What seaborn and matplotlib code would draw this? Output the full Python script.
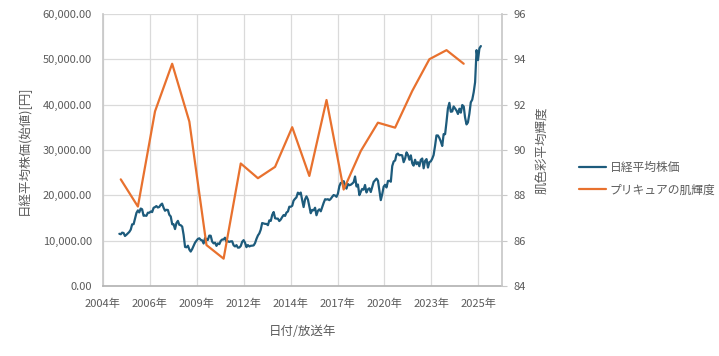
import pandas as pd
import matplotlib.pyplot as plt
import matplotlib.dates as mdates
from matplotlib.ticker import StrMethodFormatter
import seaborn as sns

# 日経平均株価（月次始値）2005-01 ~ 2026-02
nikkei_start = "2005-01-01"
nikkei_values = [
    11489,
    11388, 11740, 11668, 11009, 11277, 11584, 11900, 12413, 13574, 13607, 14872, 16111,
    16650, 16205, 17060, 16906, 15467, 15505, 15457, 16141, 16128, 16399, 16274, 17226,
    17383, 17604, 17288, 17400, 17876, 18138, 17249, 16569, 16786, 16738, 15681, 15308,
    13592, 13603, 12526, 13850, 14339, 13481, 13377, 13073, 11260, 8577, 8512, 8860,
    7994, 7568, 8110, 8828, 9523, 9958, 10357, 10493, 10133, 10035, 9346, 10546,
    10198, 10126, 11090, 11057, 9769, 9383, 9537, 8824, 9369, 9202, 9937, 10229,
    10238, 10624, 9755, 9850, 9694, 9816, 9833, 8955, 8700, 8988, 8434, 8455,
    8802, 9723, 10084, 9520, 8543, 9007, 8695, 8840, 8870, 8928, 9446, 10395,
    11139, 11559, 12398, 13861, 13775, 13677, 13668, 13389, 14456, 14328, 15662, 16291,
    14915, 14841, 14828, 14304, 14632, 15162, 15621, 15425, 16174, 16414, 17460, 17451,
    17674, 18798, 19207, 19520, 20563, 20236, 20585, 18890, 17388, 19083, 19747, 19034,
    17518, 16027, 16759, 16666, 17235, 15576, 16569, 16887, 16450, 17425, 18308, 19114,
    19041, 19119, 18909, 19197, 19651, 20033, 19925, 19646, 20356, 22012, 22725, 22765,
    23098, 22068, 21454, 22468, 22202, 22305, 22554, 22865, 24120, 21920, 22351, 20015,
    20773, 21385, 21206, 22259, 20601, 21276, 21522, 20704, 21756, 22927, 23294, 23657,
    23205, 21143, 18917, 20194, 21878, 22288, 21710, 23140, 23185, 22977, 26434, 27444,
    27663, 28966, 29179, 28813, 28860, 28792, 27284, 28090, 29453, 28893, 27822, 28792,
    27002, 26527, 27821, 26848, 27280, 26393, 27802, 28092, 25937, 27587, 27969, 26095,
    27327, 27446, 28041, 28856, 30888, 33189, 33172, 32619, 31858, 30859, 33487, 33464,
    36287, 39166, 40369, 38406, 38488, 39583, 39102, 38648, 37920, 39081, 38208, 39895,
    39572, 37156, 35618, 36045, 37965, 40487, 41070, 42718, 44932, 52000, 49800, 52400,
    52900,
]

# プリキュア（放送年 2004 ~ 2024）の肌色彩平均輝度
precure_years = list(range(2004, 2025))
precure_brightness = [
    88.7, 87.5, 91.7, 93.8, 91.25, 85.8, 85.2, 89.4, 88.75, 89.25, 91.0,
    88.85, 92.2, 88.25, 89.95, 91.2, 90.98, 92.6, 94.0, 94.4, 93.8,
]

x_tick_labels = ["2004年", "2006年", "2009年", "2012年", "2014年",
                 "2017年", "2020年", "2023年", "2025年"]
left_ticks = [0, 10000, 20000, 30000, 40000, 50000, 60000]
right_ticks = [84, 86, 88, 90, 92, 94, 96]

BLUE = "#1d5b7c"
ORANGE = "#e8712e"
TEXT = "#5b5b5b"

nikkei = pd.DataFrame({
    "date": pd.date_range(nikkei_start, periods=len(nikkei_values), freq="MS"),
    "value": nikkei_values,
})
precure = pd.DataFrame({
    "date": pd.to_datetime([f"{y + 1}-01-31" for y in precure_years]),
    "value": precure_brightness,
})

sns.set_theme(style="whitegrid")
plt.rcParams['font.family'] = ['Noto Sans CJK JP', 'DejaVu Sans']

fig, ax = plt.subplots(figsize=(7.19, 3.56), dpi=100)
fig.subplots_adjust(left=0.143, right=0.698, top=0.961, bottom=0.197)
ax2 = ax.twinx()

sns.lineplot(data=nikkei, x="date", y="value", ax=ax, color=BLUE,
             linewidth=1.6, legend=False)
sns.lineplot(data=precure, x="date", y="value", ax=ax2, color=ORANGE,
             linewidth=1.6, legend=False)

# x axis: ticks every 1000 days
left = pd.Timestamp("2004-01-15")
ticks = [mdates.date2num(left + pd.Timedelta(days=1000 * i)) for i in range(len(x_tick_labels))]
ax.set_xlim(mdates.date2num(left), mdates.date2num(left + pd.Timedelta(days=8500)))
ax.set_xticks(ticks)
ax.set_xticklabels(x_tick_labels)

ax.set_ylim(0, 60000)
ax.set_yticks(left_ticks)
ax.yaxis.set_major_formatter(StrMethodFormatter("{x:,.2f}"))
ax2.set_ylim(84, 96)
ax2.set_yticks(right_ticks)

ax.grid(True, color="#dadada", linewidth=0.9)
ax2.grid(False)

for a in (ax, ax2):
    for side in a.spines:
        a.spines[side].set_visible(False)
ax.spines["left"].set_visible(True)
ax.spines["left"].set_color("#c8c8c8")
ax.spines["bottom"].set_visible(True)
ax.spines["bottom"].set_color("#b4b4b4")
ax2.spines["right"].set_visible(True)
ax2.spines["right"].set_color("#c8c8c8")

ax.tick_params(axis="y", length=0, pad=8, labelsize=8, labelcolor=TEXT)
ax.tick_params(axis="x", length=0, pad=9.5, labelsize=8, labelcolor=TEXT)
ax2.tick_params(axis="y", length=3.5, width=0.8, color="#c8c8c8", pad=5,
                labelsize=8, labelcolor=TEXT)

ax.set_xlabel("日付/放送年", fontsize=9, color=TEXT, labelpad=11)
ax.set_ylabel("日経平均株価(始値)[円]", fontsize=9, color=TEXT, labelpad=8)
ax2.set_ylabel("肌色彩平均輝度", fontsize=9, color=TEXT, labelpad=7)

fig.legend([ax.lines[0], ax2.lines[0]], ["日経平均株価", "プリキュアの肌輝度"],
           loc="upper left", bbox_to_anchor=(573 / 719, 1 - 155 / 356),
           frameon=False, borderpad=0, handlelength=2.3, handletextpad=0.3,
           labelspacing=0.8, fontsize=8.5, labelcolor=TEXT)

plt.savefig("out.png", dpi=100)
